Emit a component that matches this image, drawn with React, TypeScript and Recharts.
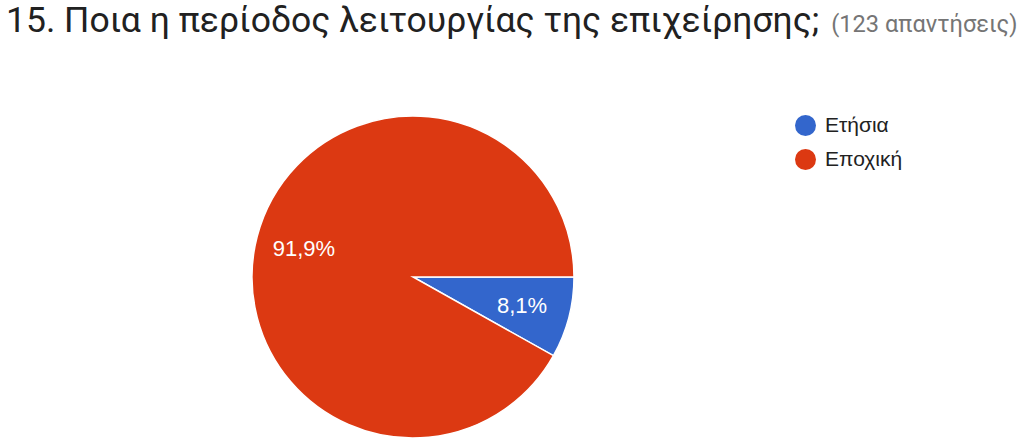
import React from 'react';
import { PieChart, Pie, Cell } from 'recharts';

const categories = ['Ετήσια', 'Εποχική'];
const counts = [10, 113];
const colors = ['#3366cc', '#dc3912'];

const data = categories.map((name, i) => ({ name, value: counts[i] }));

const RADIAN = Math.PI / 180;
const chartFont = '"Liberation Sans", Arial, sans-serif';

function renderLabel(props: any) {
  const { cx, cy, midAngle, outerRadius, percent } = props;
  const r = outerRadius * 0.7;
  const x = cx + r * Math.cos(-midAngle * RADIAN);
  const y = cy + r * Math.sin(-midAngle * RADIAN);
  const txt = (percent * 100).toFixed(1).replace('.', ',') + '%';
  return (
    <text x={x} y={y} fill="#ffffff" fontSize={22} fontFamily={chartFont} textAnchor="middle" dominantBaseline="central">
      {txt}
    </text>
  );
}

export default function App() {
  return (
    <div style={{ position: 'absolute', left: 0, top: 0, width: 1024, height: 443, background: '#fff', overflow: 'hidden', fontFamily: 'Roboto, Arial, sans-serif' }}>
      <div style={{ position: 'absolute', left: 6, top: -2, whiteSpace: 'nowrap', lineHeight: '44px' }}>
        <span style={{ fontSize: 35.5, color: '#212121' }}>15. Ποια η περίοδος λειτουργίας της επιχείρησης;</span>
        <span style={{ fontSize: 23.6, color: '#757575', marginLeft: 12 }}>(123 απαντήσεις)</span>
      </div>
      <div style={{ position: 'absolute', left: 0, top: 0 }}>
        <PieChart width={1024} height={443} margin={{ top: 0, right: 0, bottom: 0, left: 0 }}>
          <Pie
            data={data}
            dataKey="value"
            nameKey="name"
            cx={413}
            cy={277}
            outerRadius={161}
            startAngle={0}
            endAngle={-360}
            stroke="#ffffff"
            strokeWidth={1.5}
            label={renderLabel}
            labelLine={false}
            isAnimationActive={false}
          >
            {data.map((d, i) => (
              <Cell key={d.name} fill={colors[i]} />
            ))}
          </Pie>
        </PieChart>
      </div>
      {categories.map((c, i) => (
        <div key={c} style={{ position: 'absolute', left: 795, top: 114 + i * 34, height: 22, display: 'flex', alignItems: 'center' }}>
          <span style={{ width: 21, height: 21, borderRadius: 11, background: colors[i], display: 'inline-block' }} />
          <span style={{ fontSize: 21, color: '#222', marginLeft: 9, fontFamily: chartFont }}>{c}</span>
        </div>
      ))}
    </div>
  );
}
